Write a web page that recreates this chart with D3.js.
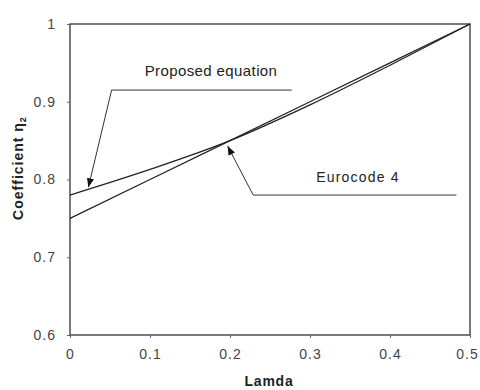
<!DOCTYPE html>
<html>
<head>
<meta charset="utf-8">
<script src="https://cdn.jsdelivr.net/npm/d3@7"></script>
<style>
  body { margin: 0; background: #fff; }
  text { font-family: Arial, "Liberation Sans", sans-serif; fill: #222; }
</style>
</head>
<body>
<div id="chart"></div>
<script>
'use strict';

// values
var lamda = [0, 0.1, 0.2, 0.3, 0.4, 0.5];
var proposed = [0.78, 0.813, 0.85, 0.896, 0.947, 1.0];
var eurocode = [0.75, 0.80, 0.85, 0.90, 0.95, 1.0];
var xTicks = [0, 0.1, 0.2, 0.3, 0.4, 0.5];
var yTicks = [0.6, 0.7, 0.8, 0.9, 1];

var width = 480, height = 390;
var margin = {top: 24, right: 10, bottom: 55, left: 70};

var svg = d3.select('#chart').append('svg')
  .attr('width', width)
  .attr('height', height);

var x = d3.scaleLinear().domain([0, 0.5]).range([margin.left, width - margin.right]);
var y = d3.scaleLinear().domain([0.6, 1]).range([height - margin.bottom, margin.top]);

// frame
svg.append('rect')
  .attr('x', x(0)).attr('y', y(1))
  .attr('width', x(0.5) - x(0)).attr('height', y(0.6) - y(1))
  .attr('fill', 'none').attr('stroke', '#333').attr('stroke-width', 1.3);

var xAxis = svg.append('g')
  .attr('transform', 'translate(0,' + y(0.6) + ')')
  .call(d3.axisBottom(x).tickValues(xTicks).tickSize(3).tickPadding(11)
    .tickFormat(function (d) { return d === 0 ? '0' : d3.format('.1f')(d); }));

var yAxis = svg.append('g')
  .attr('transform', 'translate(' + x(0) + ',0)')
  .call(d3.axisLeft(y).tickValues(yTicks).tickSize(3).tickPadding(11)
    .tickFormat(function (d) { return d === 1 ? '1' : d3.format('.1f')(d); }));

[xAxis, yAxis].forEach(function (g) {
  g.select('.domain').remove();
  g.selectAll('.tick line').attr('stroke', '#666');
  g.selectAll('.tick text')
    .style('font-size', '14px')
    .style('letter-spacing', '1px')
    .style('fill', '#444');
});
// last label sits at the right edge, nudge it in a little
xAxis.selectAll('.tick text').filter(function (d) { return d === 0.5; }).attr('dx', -3);

var line = d3.line()
  .x(function (d, i) { return x(lamda[i]); })
  .y(function (d) { return y(d); });

svg.append('path').datum(eurocode)
  .attr('d', line).attr('fill', 'none').attr('stroke', '#222').attr('stroke-width', 1.3);
svg.append('path').datum(proposed)
  .attr('d', line.curve(d3.curveMonotoneX))
  .attr('fill', 'none').attr('stroke', '#222').attr('stroke-width', 1.3);

// arrow head
svg.append('defs').append('marker')
  .attr('id', 'arr')
  .attr('viewBox', '0 0 10 10')
  .attr('refX', 10).attr('refY', 5)
  .attr('markerWidth', 9).attr('markerHeight', 9)
  .attr('orient', 'auto')
  .append('path').attr('d', 'M0,1L10,5L0,9Z').attr('fill', '#111');

// leader lines for the labels
svg.append('path')
  .attr('d', 'M' + x(0.277) + ',' + y(0.915) + 'H' + x(0.052) + 'L' + x(0.023) + ',' + y(0.79))
  .attr('fill', 'none').attr('stroke', '#333').attr('stroke-width', 1)
  .attr('marker-end', 'url(#arr)');

svg.append('path')
  .attr('d', 'M' + x(0.483) + ',' + y(0.78) + 'H' + x(0.229) + 'L' + x(0.197) + ',' + y(0.843))
  .attr('fill', 'none').attr('stroke', '#333').attr('stroke-width', 1)
  .attr('marker-end', 'url(#arr)');

svg.append('text')
  .attr('x', 211).attr('y', 76)
  .attr('text-anchor', 'middle')
  .style('font-size', '15px')
  .style('letter-spacing', '0.4px')
  .text('Proposed equation');

svg.append('text')
  .attr('x', 358).attr('y', 182)
  .attr('text-anchor', 'middle')
  .style('font-size', '14px')
  .style('letter-spacing', '1.2px')
  .text('Eurocode 4');

// axis titles
svg.append('text')
  .attr('x', 269).attr('y', 386)
  .attr('text-anchor', 'middle')
  .style('font-size', '14px').style('font-weight', 'bold')
  .style('letter-spacing', '0.8px')
  .text('Lamda');

var yt = svg.append('text')
  .attr('transform', 'translate(23,168) rotate(-90)')
  .attr('text-anchor', 'middle')
  .style('font-size', '14px').style('font-weight', 'bold')
  .style('letter-spacing', '1px');
yt.append('tspan').text('Coefficient \u03B7');
yt.append('tspan').attr('dy', 3).style('font-size', '9px').text('2');
</script>
</body>
</html>
